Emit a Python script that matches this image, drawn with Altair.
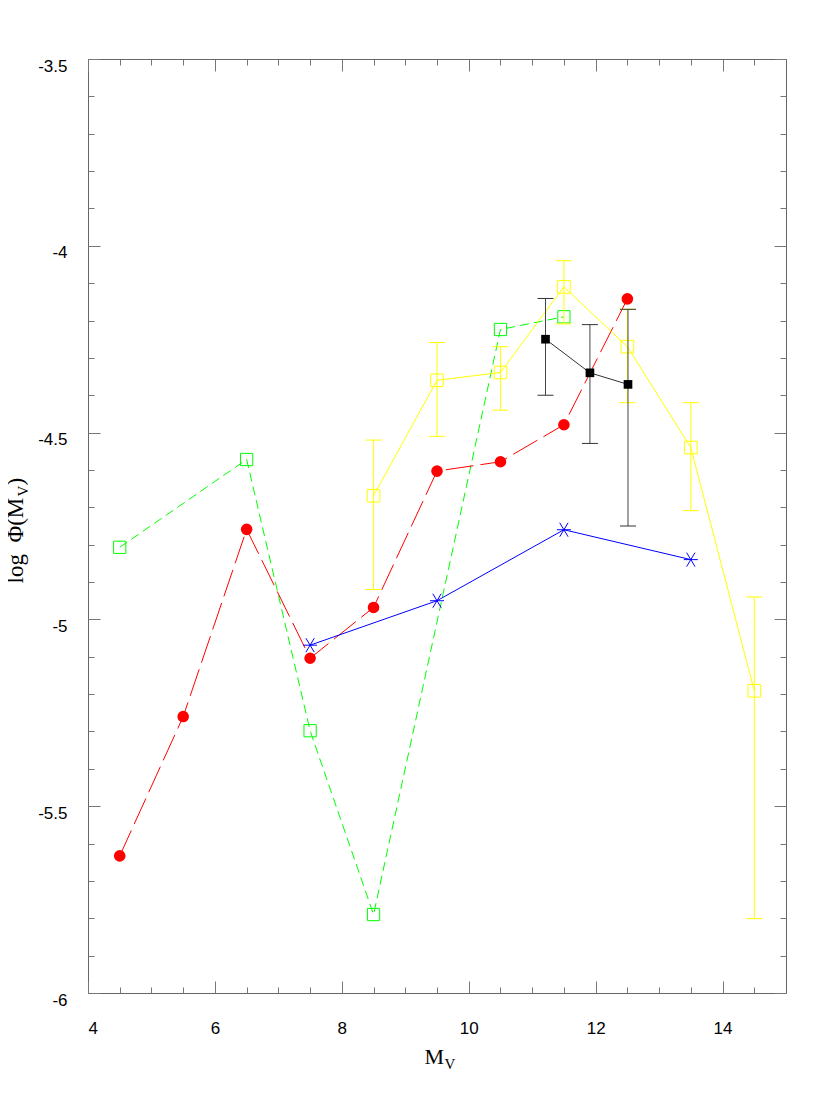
import altair as alt
import pandas as pd

# ---------------- data ----------------
red_x = [4.5, 5.5, 6.5, 7.5, 8.5, 9.5, 10.5, 11.5, 12.5]
red_y = [-5.633, -5.260, -4.759, -5.104, -4.968, -4.603, -4.578, -4.479, -4.142]

green_x = [4.5, 6.5, 7.5, 8.5, 10.5, 11.5]
green_y = [-4.807, -4.572, -5.298, -5.790, -4.224, -4.190]

yellow_x = [8.5, 9.5, 10.5, 11.5, 12.5, 13.5, 14.5]
yellow_y = [-4.669, -4.360, -4.339, -4.110, -4.270, -4.540, -5.191]
yellow_hi = [-4.520, -4.259, -4.270, -4.040, -4.170, -4.420, -4.940]
yellow_lo = [-4.920, -4.510, -4.440, -4.209, -4.420, -4.709, -5.801]

blue_x = [7.5, 9.5, 11.5, 13.5]
blue_y = [-5.069, -4.950, -4.760, -4.840]

black_x = [11.21, 11.91, 12.51]
black_y = [-4.250, -4.340, -4.371]
black_hi = [-4.141, -4.211, -4.170]
black_lo = [-4.400, -4.529, -4.750]

x_major = [4, 6, 8, 10, 12, 14]
x_minor = [4.5, 5, 5.5, 6.5, 7, 7.5, 8.5, 9, 9.5, 10.5, 11, 11.5, 12.5, 13, 13.5, 14.5]
y_major = [-6, -5.5, -5, -4.5, -4, -3.5]
y_minor = [round(-6 + 0.1 * i, 1) for i in range(26)]

# ---------------- layout ----------------
W, H = 698, 934
SERIF = "Liberation Serif"
SANS = "Liberation Sans"

xs = alt.Scale(domain=[4, 15], nice=False, zero=False)
ys = alt.Scale(domain=[-6, -3.5], nice=False, zero=False)

tick_common = dict(labels=False, domain=False, grid=False, ticks=True,
                   tickColor="#777777", tickWidth=1)

title_common = dict(titleFont=SERIF, titleFontWeight="normal", titleColor="black",
                    titleAlign="left", titleBaseline="alphabetic")

# x axes
ax_x_labels = alt.Axis(orient="bottom", values=x_major, ticks=False, tickSize=0,
                       domain=False, grid=False, labelFont=SANS, labelFontSize=17,
                       labelColor="black", labelPadding=27,
                       labelExpr="'' + datum.value",
                       title="M", titleFontSize=22, titleX=336, titleY=70,
                       titleAngle=0, **title_common)
ax_x_bot_major = alt.Axis(orient="top", offset=-H, values=x_major, tickSize=12,
                          title="V", titleFontSize=15, titleX=356, titleY=75,
                          titleAngle=0, **title_common, **tick_common)
ax_x_bot_minor = alt.Axis(orient="top", offset=-H, values=x_minor, tickSize=6,
                          title=None, **tick_common)
ax_x_top_major = alt.Axis(orient="bottom", offset=-H, values=x_major, tickSize=12,
                          title=None, **tick_common)
ax_x_top_minor = alt.Axis(orient="bottom", offset=-H, values=x_minor, tickSize=6,
                          title=None, **tick_common)

# y axes
ax_y_labels = alt.Axis(orient="left", values=y_major, ticks=False, tickSize=0,
                       domain=False, grid=False, labelFont=SANS, labelFontSize=17,
                       labelColor="black", labelPadding=21, labelBaseline="middle",
                       labelOffset=7, labelExpr="'' + datum.value",
                       title="log\u00a0\u00a0Φ(M", titleFontSize=23, titleX=-66, titleY=524,
                       titleAngle=270, **title_common)
ax_y_left_major = alt.Axis(orient="right", offset=-W, values=y_major, tickSize=12,
                           title="V", titleFontSize=15, titleX=-61, titleY=437,
                           titleAngle=270, **title_common, **tick_common)
ax_y_left_minor = alt.Axis(orient="right", offset=-W, values=y_minor, tickSize=6,
                           title=")", titleFontSize=23, titleX=-66, titleY=426,
                           titleAngle=270, **title_common, **tick_common)
ax_y_right_major = alt.Axis(orient="left", offset=-W, values=y_major, tickSize=12,
                            title=None, **tick_common)
ax_y_right_minor = alt.Axis(orient="left", offset=-W, values=y_minor, tickSize=6,
                            title=None, **tick_common)

x_axes = [ax_x_labels, ax_x_bot_major, ax_x_bot_minor, ax_x_top_major, ax_x_top_minor]
y_axes = [ax_y_labels, ax_y_left_major, ax_y_left_minor, ax_y_right_major, ax_y_right_minor]

# ---------------- tables ----------------
red = pd.DataFrame({"x": red_x, "y": red_y})
green = pd.DataFrame({"x": green_x, "y": green_y})
yellow = pd.DataFrame({"x": yellow_x, "y": yellow_y, "hi": yellow_hi, "lo": yellow_lo})
yellow_caps = pd.DataFrame({"x": yellow_x + yellow_x, "y": yellow_hi + yellow_lo})
blue = pd.DataFrame({"x": blue_x, "y": blue_y})
black = pd.DataFrame({"x": black_x, "y": black_y, "hi": black_hi, "lo": black_lo})
black_caps = pd.DataFrame({"x": black_x + black_x, "y": black_hi + black_lo})

CAP = "M-1,0L1,0"
ASTER = "M-1,0L1,0M-0.6,-1L0.6,1M-0.6,1L0.6,-1"

layers = []
counter = [0]


def enc(chart, yfield="y", y2=None):
    i = counter[0]
    counter[0] += 1
    xa = x_axes[i] if i < len(x_axes) else None
    ya = y_axes[i] if i < len(y_axes) else None
    kw = dict(
        x=alt.X("x:Q", scale=xs, axis=xa),
        y=alt.Y(f"{yfield}:Q", scale=ys, axis=ya),
    )
    if y2 is not None:
        kw["y2"] = alt.Y2(f"{y2}:Q")
    return chart.encode(**kw)


# green (short dash, open squares)
layers.append(enc(alt.Chart(green).mark_line(color="#00ff00", strokeWidth=1, strokeDash=[9, 5])))
layers.append(enc(alt.Chart(green).mark_point(shape="square", filled=False, color="#00ff00",
                                              size=150, strokeWidth=1, opacity=1)))
# red (long dash, filled circles)
layers.append(enc(alt.Chart(red).mark_line(color="#ff0000", strokeWidth=1, strokeDash=[28, 7])))
layers.append(enc(alt.Chart(red).mark_point(shape="circle", filled=True, color="#ff0000",
                                            size=135, opacity=1)))
# blue (solid, asterisks)
layers.append(enc(alt.Chart(blue).mark_line(color="#0000ff", strokeWidth=1)))
layers.append(enc(alt.Chart(blue).mark_point(shape=ASTER, filled=False, color="#0000ff",
                                             size=196, strokeWidth=1, opacity=1)))
# yellow (solid, open squares with error bars)
layers.append(enc(alt.Chart(yellow).mark_rule(color="#ffff00", strokeWidth=1), "lo", "hi"))
layers.append(enc(alt.Chart(yellow_caps).mark_point(shape=CAP, filled=False, color="#ffff00",
                                                    size=256, strokeWidth=1, opacity=1)))
layers.append(enc(alt.Chart(yellow).mark_line(color="#ffff00", strokeWidth=1)))
layers.append(enc(alt.Chart(yellow).mark_point(shape="square", filled=False, color="#ffff00",
                                               size=160, strokeWidth=1, opacity=1)))
# black (solid, filled squares with error bars)
layers.append(enc(alt.Chart(black).mark_rule(color="#444444", strokeWidth=1), "lo", "hi"))
layers.append(enc(alt.Chart(black_caps).mark_point(shape=CAP, filled=False, color="#333333",
                                                   size=256, strokeWidth=1, opacity=1)))
layers.append(enc(alt.Chart(black).mark_line(color="#333333", strokeWidth=1)))
layers.append(enc(alt.Chart(black).mark_point(shape="square", filled=True, color="black",
                                              size=75, opacity=1)))

chart = alt.layer(*layers).resolve_axis(x="independent", y="independent").properties(
    width=W, height=H,
    autosize=alt.AutoSizeParams(type="none"),
    padding={"left": 80, "top": 51, "right": 36, "bottom": 105},
    background="white",
).configure_view(stroke="#666666", strokeWidth=1)

chart.save("out.html", embed_options={"renderer": "svg", "actions": False})
